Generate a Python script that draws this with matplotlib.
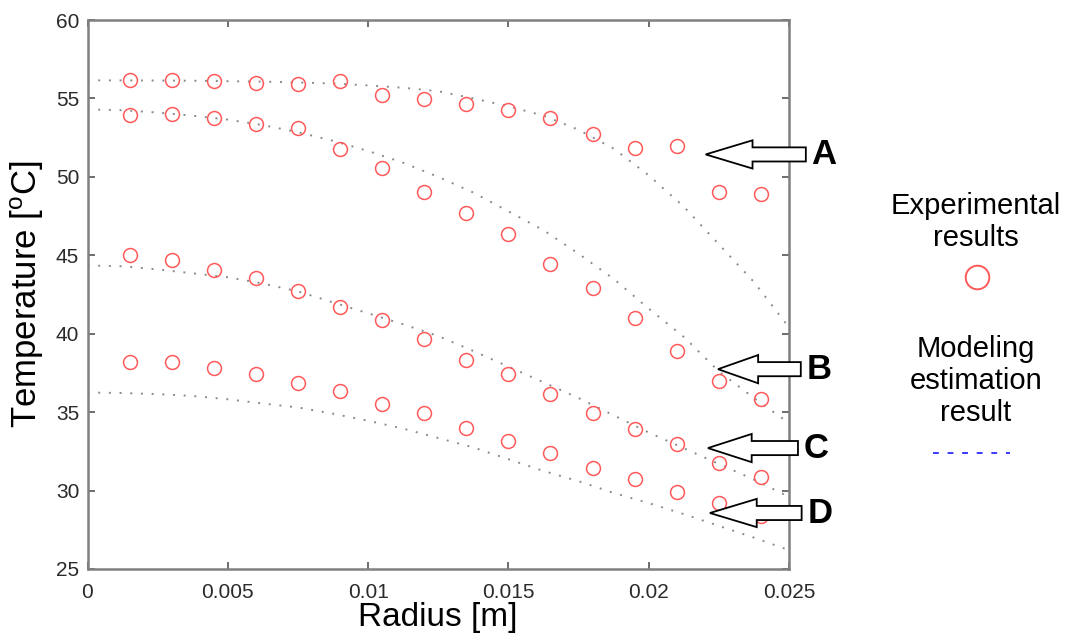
import numpy as np
import matplotlib
matplotlib.use("Agg")
import matplotlib.pyplot as plt
from matplotlib.patches import Polygon
from matplotlib.lines import Line2D

plt.rcParams['font.family'] = ['Liberation Sans', 'DejaVu Sans']
plt.rcParams['mathtext.fontset'] = 'custom'
plt.rcParams['mathtext.rm'] = 'Liberation Sans'
plt.rcParams['mathtext.it'] = 'Liberation Sans:italic'

# Measurement radii [m]
radius_exp = [0.0015, 0.0030, 0.0045, 0.0060, 0.0075, 0.0090, 0.0105, 0.0120,
              0.0135, 0.0150, 0.0165, 0.0180, 0.0195, 0.0210, 0.0225, 0.0240]

# Measured temperatures [deg C]
temp_A = [56.15, 56.15, 56.10, 55.96, 55.89, 56.08, 55.25, 54.94,
          54.66, 54.24, 53.73, 52.71, 51.82, 51.94, 49.01, 48.89]
temp_B = [53.92, 53.98, 53.73, 53.34, 53.09, 51.75, 50.54, 49.01,
          47.68, 46.34, 44.43, 42.90, 40.99, 38.89, 36.97, 35.83]
temp_C = [45.00, 44.68, 44.04, 43.55, 42.71, 41.71, 40.90, 39.65,
          38.31, 37.40, 36.15, 34.92, 33.94, 32.96, 31.73, 30.84]
temp_D = [38.20, 38.20, 37.80, 37.40, 36.87, 36.36, 35.55, 34.92,
          34.00, 33.17, 32.37, 31.45, 30.71, 29.90, 29.18, 28.36]

# Model radii [m]
radius_model = [0.0, 0.00125, 0.0025, 0.00375, 0.005, 0.00625, 0.0075, 0.00875,
                0.01, 0.01125, 0.0125, 0.01375, 0.015, 0.01625, 0.0175, 0.01875,
                0.02, 0.02125, 0.0225, 0.02375, 0.025]

# Model temperatures [deg C]
model_A = [56.15, 56.15, 56.14, 56.13, 56.10, 56.07, 56.02, 55.95, 55.83, 55.68, 55.46,
           55.00, 54.50, 53.90, 53.00, 51.80, 50.10, 48.10, 45.70, 43.30, 40.40]
model_B = [54.30, 54.25, 54.10, 53.90, 53.65, 53.30, 52.85, 52.30, 51.65, 50.90, 50.00,
           49.00, 47.80, 46.60, 45.10, 43.50, 41.60, 39.80, 37.60, 35.90, 34.30]
model_C = [44.35, 44.30, 44.10, 43.85, 43.60, 43.20, 42.70, 42.00, 41.30, 40.60, 39.85,
           38.90, 37.90, 36.90, 35.90, 34.80, 33.70, 32.70, 31.70, 30.70, 29.60]
model_D = [36.25, 36.22, 36.15, 36.03, 35.82, 35.55, 35.30, 34.90, 34.45, 33.95, 33.35,
           32.75, 32.00, 31.25, 30.60, 29.85, 29.20, 28.50, 27.75, 27.00, 26.20]

case_labels = ['A', 'B', 'C', 'D']
x_ticks = [0, 0.005, 0.01, 0.015, 0.02, 0.025]
x_tick_labels = ['0', '0.005', '0.01', '0.015', '0.02', '0.025']
y_ticks = [25, 30, 35, 40, 45, 50, 55, 60]

W, H = 1067, 639
fig = plt.figure(figsize=(W / 100, H / 100), dpi=100)
ax = fig.add_axes([87.5 / W, 1 - 569 / H, 701.5 / W, 549 / H])

spine_col = '#808080'
dot_col = '#8a8a8a'
red = '#ff5a5a'

for m in (model_A, model_B, model_C, model_D):
    ax.plot(radius_model, m, color=dot_col, lw=1.4, linestyle=(0, (1, 4.5)))

for t in (temp_A, temp_B, temp_C, temp_D):
    ax.plot(radius_exp, t, linestyle='none', marker='o', markersize=10,
            markerfacecolor='none', markeredgecolor=red, markeredgewidth=1.1)

ax.set_xlim(0, 0.025)
ax.set_ylim(25, 60)
ax.set_xticks(x_ticks)
ax.set_xticklabels(x_tick_labels)
ax.set_yticks(y_ticks)
ax.tick_params(direction='in', length=5, width=1.2, color='#555555',
               labelsize=15, labelcolor='#2a2a2a', top=True, right=True)
ax.tick_params(axis='x', pad=10)
ax.tick_params(axis='y', pad=6)
for s in ax.spines.values():
    s.set_color(spine_col)
    s.set_linewidth(1.8)

ax.set_xlabel('Radius [m]', fontsize=24, labelpad=0)
ax.set_ylabel(r'Temperature [$^{\rm o}$C]', fontsize=25, labelpad=7)


def block_arrow(tip_x, tip_y, head_x, tail_x, head_h=0.9, shaft_h=0.45):
    pts = [(tip_x, tip_y), (head_x, tip_y + head_h), (head_x, tip_y + shaft_h),
           (tail_x, tip_y + shaft_h), (tail_x, tip_y - shaft_h),
           (head_x, tip_y - shaft_h), (head_x, tip_y - head_h)]
    ax.add_patch(Polygon(pts, closed=True, facecolor='white', edgecolor='black',
                         lw=1.3, clip_on=False, zorder=5))


# Pointers to each profile
arrow_tips = [(0.02203, 51.43), (0.02247, 37.74), (0.02211, 32.71), (0.02218, 28.57)]
head_xs = [0.02370, 0.02390, 0.02367, 0.02385]
tail_xs = [0.02560, 0.02542, 0.02532, 0.02545]
for lab, (tx, ty), hx, tl in zip(case_labels, arrow_tips, head_xs, tail_xs):
    block_arrow(tx, ty, hx, tl)
    ax.text(tl + 0.0002, ty, lab, fontsize=25, fontweight='bold',
            ha='left', va='center', clip_on=False)

# Side legend
def fx(px):
    return px / W


def fy(py):
    return 1 - py / H


fig.text(fx(976), fy(222), 'Experimental\nresults', fontsize=21, ha='center',
         va='center', linespacing=1.2)
fig.add_artist(Line2D([fx(977)], [fy(277)], marker='o', markersize=17,
                      markerfacecolor='none', markeredgecolor=red,
                      markeredgewidth=1.4, transform=fig.transFigure))
fig.text(fx(976), fy(381), 'Modeling\nestimation\nresult', fontsize=21,
         ha='center', va='center', linespacing=1.2)
fig.add_artist(Line2D([fx(933), fx(1010)], [fy(453), fy(453)], color='#3b3bff',
                      lw=1.4, linestyle=(0, (3, 4.5)), transform=fig.transFigure))

fig.savefig('out.png', dpi=100)
